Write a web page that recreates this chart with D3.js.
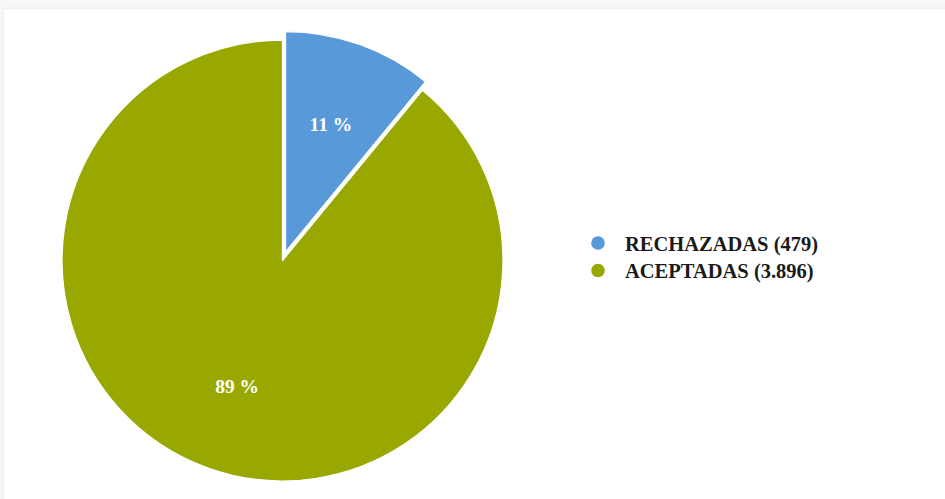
<!DOCTYPE html>
<html>
<head>
<meta charset="utf-8">
<script src="https://cdn.jsdelivr.net/npm/d3@7"></script>
<style>
  html, body { margin: 0; padding: 0; background: #f7f7f7; overflow: hidden; }
  #card {
    position: absolute; left: 4px; top: 9px; width: 960px; height: 520px;
    background: #fff; box-shadow: 0 0 4px rgba(0,0,0,0.08);
  }
  svg { position: absolute; left: 0; top: 0; }
</style>
</head>
<body>
<div id="card"></div>
<svg id="chart" width="945" height="499"></svg>
<script>
// data
const categories = ['RECHAZADAS', 'ACEPTADAS'];
const counts = [479, 3896];
const countLabels = ['479', '3.896'];
const colors = ['#5899da', '#99a800'];

const width = 945, height = 499;
const cx = 282.5, cy = 260.5, radius = 220.5;
const explode = 9; // first slice is pulled out

let svg = d3.select('#chart');

let total = d3.sum(counts);
let pie = d3.pie().sort(null).value(d => d)(counts);

let arc = d3.arc().innerRadius(0).outerRadius(radius);
let labelArc = d3.arc().innerRadius(radius * 0.61).outerRadius(radius * 0.61);

let g = svg.append('g').attr('transform', `translate(${cx},${cy})`);

function shift(d, i) {
    if (i !== 0) return [0, 0];
    let a = (d.startAngle + d.endAngle) / 2;
    return [Math.sin(a) * explode, -Math.cos(a) * explode];
}

let slices = g.selectAll('g.slice')
    .data(pie)
    .enter()
    .append('g')
    .attr('class', 'slice')
    .attr('transform', (d, i) => `translate(${shift(d, i)})`);

slices.append('path')
    .attr('d', arc)
    .attr('fill', (d, i) => colors[i])
    .attr('stroke', '#fff')
    .attr('stroke-width', 1.3)
    .attr('stroke-linejoin', 'round');

slices.append('text')
    .attr('transform', d => `translate(${labelArc.centroid(d)})`)
    .attr('text-anchor', 'middle')
    .attr('dy', '0.3em')
    .attr('font-family', "'Liberation Serif', serif")
    .attr('font-weight', 'bold')
    .style('font-size', '19.5px')
    .style('fill', '#fff')
    .text(d => Math.round(d.value / total * 100) + ' %');

// LEGEND
let legend = svg.append('g').attr('transform', 'translate(598,243)');

let items = legend.selectAll('g')
    .data(categories)
    .enter()
    .append('g')
    .attr('transform', (d, i) => `translate(0,${i * 27.5})`);

items.append('circle')
    .attr('r', 6.8)
    .attr('fill', (d, i) => colors[i]);

items.append('text')
    .attr('x', 27)
    .attr('y', 7.5)
    .attr('font-family', "'Liberation Serif', serif")
    .attr('font-weight', 'bold')
    .style('font-size', '20.5px')
    .style('fill', '#1a1a1a')
    .text((d, i) => `${d} (${countLabels[i]})`);
</script>
</body>
</html>
